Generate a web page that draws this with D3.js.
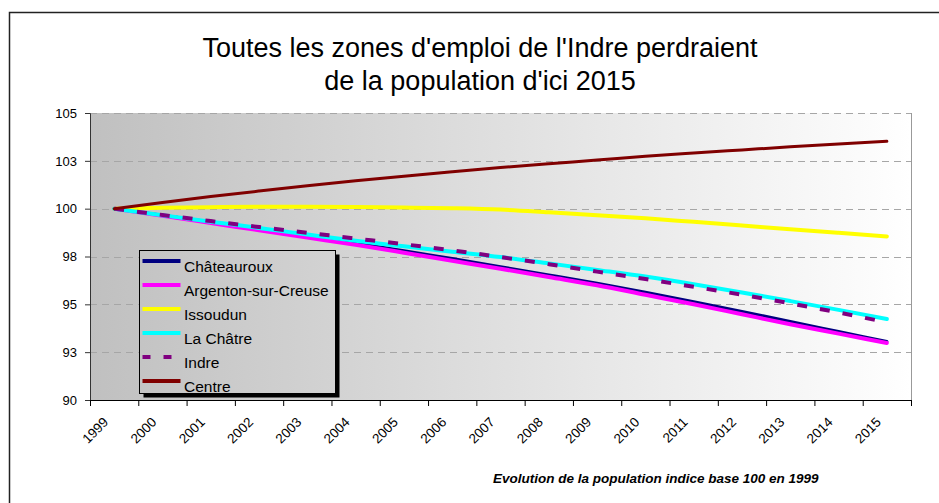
<!DOCTYPE html>
<html>
<head>
<meta charset="utf-8">
<script src="https://cdn.jsdelivr.net/npm/d3@7"></script>
<style>
  body { margin: 0; background: #fff; }
  svg { display: block; font-family: "Liberation Sans", Arial, sans-serif; }
</style>
</head>
<body>
<div id="chart"></div>
<script>
// Population index, base 100 in 1999
const years = d3.range(1999, 2016).map(String);

const chateauroux = [100, 99.66, 99.30, 98.94, 98.57, 98.20, 97.80, 97.39, 96.97, 96.54, 96.10, 95.63, 95.14, 94.63, 94.10, 93.58, 93.06];
const argenton    = [100, 99.63, 99.25, 98.87, 98.49, 98.11, 97.70, 97.28, 96.86, 96.43, 96.00, 95.50, 95.00, 94.48, 93.96, 93.47, 92.98];
const issoudun    = [100, 100.05, 100.08, 100.10, 100.10, 100.09, 100.06, 100.02, 99.95, 99.81, 99.66, 99.50, 99.31, 99.12, 98.93, 98.74, 98.55];
const laChatre    = [100, 99.66, 99.32, 98.99, 98.65, 98.32, 98.03, 97.75, 97.47, 97.14, 96.80, 96.45, 96.05, 95.62, 95.17, 94.71, 94.23];
const indre       = [100, 99.67, 99.35, 99.04, 98.74, 98.44, 98.14, 97.82, 97.47, 97.10, 96.71, 96.32, 95.92, 95.50, 95.05, 94.57, 94.06];
const centre      = [100, 100.32, 100.63, 100.92, 101.20, 101.46, 101.70, 101.93, 102.15, 102.35, 102.54, 102.74, 102.91, 103.07, 103.23, 103.38, 103.52];

const seriesNames = ["Châteauroux", "Argenton-sur-Creuse", "Issoudun", "La Châtre", "Indre", "Centre"];
const seriesValues = [chateauroux, argenton, issoudun, laChatre, indre, centre];
const seriesColors = ["#000080", "#ff00ff", "#ffff00", "#00ffff", "#800080", "#800000"];

const yTicks = [90, 92.5, 95, 97.5, 100, 102.5, 105];
const yTickLabels = ["90", "93", "95", "98", "100", "103", "105"];

const titleLines = ["Toutes les zones d'emploi de l'Indre perdraient", "de la population d'ici 2015"];
const footnote = "Evolution de la population indice base 100 en 1999";

// Setup
const width = 939;
const height = 503;
const plot = { left: 90, right: 911, top: 113, bottom: 400 };

const svg = d3.select("#chart")
    .append("svg")
    .attr("width", width)
    .attr("height", height);

// outer frame (only top and left edges are in view)
svg.append("path")
    .attr("d", `M9.5,${height} V12.5 H${width}`)
    .attr("fill", "none")
    .attr("stroke", "#222")
    .attr("stroke-width", 1.5);

// title
svg.append("text")
    .attr("x", 480)
    .attr("y", 57)
    .attr("text-anchor", "middle")
    .style("font-family", "'Liberation Sans Narrow', 'Arial Narrow', 'Liberation Sans', sans-serif")
    .style("font-size", "27px")
    .selectAll("tspan")
    .data(titleLines)
    .join("tspan")
    .attr("x", 480)
    .attr("dy", (d, i) => i === 0 ? 0 : 33)
    .text(d => d);

// scales
const x = d3.scaleBand()
    .domain(years)
    .range([plot.left, plot.right]);

const xEdges = d3.scaleLinear()
    .domain([0, years.length])
    .range([plot.left, plot.right]);

const y = d3.scaleLinear()
    .domain([90, 105])
    .range([plot.bottom, plot.top]);

// plot area background
const defs = svg.append("defs");
const grad = defs.append("linearGradient")
    .attr("id", "bg")
    .attr("gradientUnits", "userSpaceOnUse")
    .attr("x1", plot.left).attr("x2", plot.right)
    .attr("y1", 0).attr("y2", 0);
grad.append("stop").attr("offset", 0).attr("stop-color", "#c0c0c0");
grad.append("stop").attr("offset", 1).attr("stop-color", "#ffffff");

svg.append("rect")
    .attr("x", plot.left)
    .attr("y", plot.top)
    .attr("width", plot.right - plot.left)
    .attr("height", plot.bottom - plot.top)
    .attr("fill", "url(#bg)");

// right border of plot area
svg.append("line")
    .attr("x1", plot.right + 0.5).attr("x2", plot.right + 0.5)
    .attr("y1", plot.top).attr("y2", plot.bottom)
    .attr("stroke", "#9a9a9a");

// gridlines
svg.append("g")
    .selectAll("line")
    .data(yTicks.filter(d => d > 90))
    .join("line")
    .attr("x1", plot.left)
    .attr("x2", plot.right)
    .attr("y1", d => Math.round(y(d)) + 0.5)
    .attr("y2", d => Math.round(y(d)) + 0.5)
    .attr("stroke", "#a6a6a6")
    .attr("stroke-width", 1.2)
    .attr("stroke-dasharray", "7,5");

// y axis
const yAxis = svg.append("g")
    .attr("transform", `translate(${plot.left},0)`)
    .call(d3.axisLeft(y)
        .tickValues(yTicks)
        .tickFormat((d, i) => yTickLabels[i])
        .tickSize(5)
        .tickPadding(8));
yAxis.select(".domain").attr("stroke", "#333");
yAxis.selectAll(".tick line").attr("stroke", "#333");
yAxis.selectAll("text")
    .style("font-size", "13px")
    .style("font-family", "'Liberation Sans', Arial, sans-serif")
    .attr("fill", "#000");

// x axis: tick marks on category boundaries
const xAxis = svg.append("g")
    .attr("transform", `translate(0,${plot.bottom})`)
    .call(d3.axisBottom(xEdges)
        .tickValues(d3.range(years.length + 1))
        .tickFormat("")
        .tickSize(6)
        .tickSizeOuter(0));
xAxis.select(".domain").attr("stroke", "#000");
xAxis.selectAll(".tick line").attr("stroke", "#000");

// x labels, rotated, centred on categories
svg.append("g")
    .selectAll("text")
    .data(years)
    .join("text")
    .attr("transform", d => `translate(${x(d) + x.bandwidth() / 2 - 5},${plot.bottom + 23}) rotate(-45)`)
    .attr("text-anchor", "end")
    .style("font-size", "13.5px")
    .text(d => d);

// lines
const line = d3.line()
    .x((d, i) => x(years[i]) + x.bandwidth() / 2)
    .y(d => y(d))
    .curve(d3.curveMonotoneX);

const lineWidths = [3, 4, 4, 4, 4, 3];

svg.append("g")
    .selectAll("path")
    .data(seriesValues)
    .join("path")
    .attr("d", d => line(d))
    .attr("fill", "none")
    .attr("stroke", (d, i) => seriesColors[i])
    .attr("stroke-width", (d, i) => lineWidths[i])
    .attr("stroke-linecap", (d, i) => i === 4 ? "butt" : "round")
    .attr("stroke-dasharray", (d, i) => i === 4 ? "10,13" : null);

// legend
const legend = { x: 139.5, y: 250.5, w: 196, h: 143 };

svg.append("rect")
    .attr("x", legend.x + 4)
    .attr("y", legend.y + 4)
    .attr("width", legend.w)
    .attr("height", legend.h)
    .attr("fill", "#000");

svg.append("rect")
    .attr("x", legend.x)
    .attr("y", legend.y)
    .attr("width", legend.w)
    .attr("height", legend.h)
    .attr("fill", "url(#bg)")
    .attr("stroke", "#000");

const items = svg.append("g")
    .selectAll("g")
    .data(seriesNames)
    .join("g")
    .attr("transform", (d, i) => `translate(${legend.x},${261 + i * 24})`);

items.append("line")
    .attr("x1", 3)
    .attr("x2", 41)
    .attr("stroke", (d, i) => seriesColors[i])
    .attr("stroke-width", 4)
    .attr("stroke-dasharray", (d, i) => i === 4 ? "8,13" : null);

items.append("text")
    .attr("x", 44.5)
    .attr("y", 11)
    .style("font-size", "15.5px")
    .text(d => d);

// footnote
svg.append("text")
    .attr("x", 493)
    .attr("y", 483)
    .style("font-size", "13.5px")
    .style("font-weight", "bold")
    .style("font-style", "italic")
    .text(footnote);
</script>
</body>
</html>
